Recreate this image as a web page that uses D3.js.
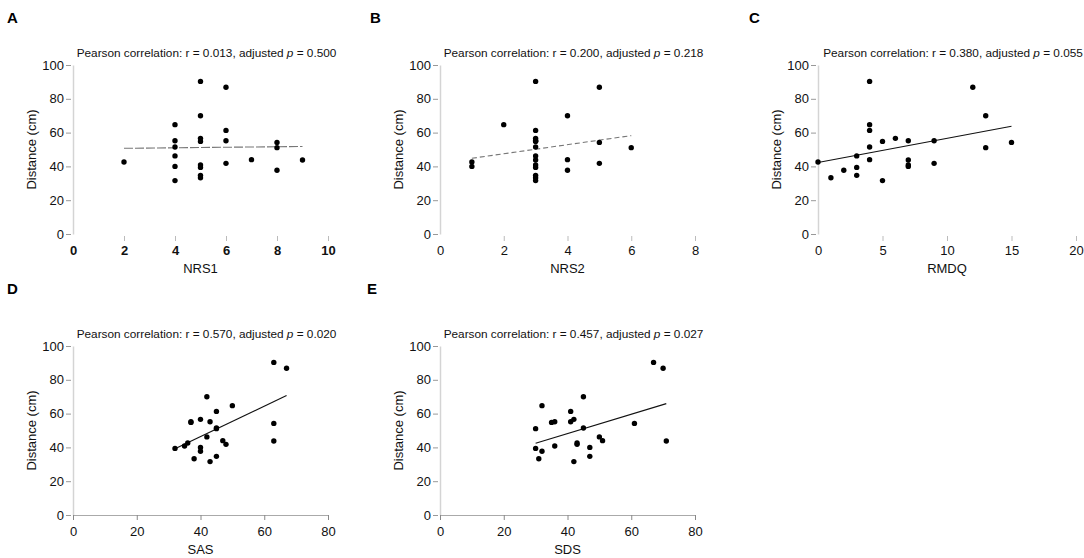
<!DOCTYPE html>
<html>
<head>
<meta charset="utf-8">
<script src="https://cdn.jsdelivr.net/npm/d3@7"></script>
<style>
  body { margin: 0; background: #fff; }
  svg { font-family: "Liberation Sans", Arial, sans-serif; }
</style>
</head>
<body>
<svg id="chart" width="1084" height="558"></svg>
<script>
// values (distance in cm)
const nrs1X = [2, 4, 4, 4, 4, 4, 4, 5, 5, 5, 5, 5, 5, 5, 5, 6, 6, 6, 6, 7, 8, 8, 8, 9];
const nrs1Y = [42.6, 64.7, 55.2, 51.5, 46.2, 40.0, 31.6, 90.3, 70.0, 56.6, 54.8, 40.8, 39.4, 34.7, 33.3, 86.8, 61.3, 55.2, 41.8, 44.0, 54.2, 51.1, 37.7, 43.8];

const nrs2X = [1, 1, 2, 3, 3, 3, 3, 3, 3, 3, 3, 3, 3, 3, 3, 3, 3, 4, 4, 4, 5, 5, 5, 6];
const nrs2Y = [42.6, 40.0, 64.7, 90.3, 61.3, 56.6, 55.2, 55.2, 54.8, 51.5, 46.2, 43.8, 40.8, 39.4, 34.7, 33.3, 31.6, 70.0, 44.0, 37.7, 86.8, 54.2, 41.8, 51.1];

const rmdqX = [0, 1, 2, 3, 3, 3, 4, 4, 4, 4, 4, 5, 5, 6, 7, 7, 7, 7, 9, 9, 12, 13, 13, 15];
const rmdqY = [42.6, 33.3, 37.7, 46.2, 39.4, 34.7, 90.3, 64.7, 61.3, 51.5, 44.0, 54.8, 31.6, 56.6, 55.2, 43.8, 40.8, 40.0, 55.2, 41.8, 86.8, 70.0, 51.1, 54.2];

const sasX = [32, 35, 36, 37, 37, 38, 40, 40, 40, 42, 42, 43, 43, 45, 45, 45, 45, 47, 48, 50, 63, 63, 63, 67];
const sasY = [39.4, 40.8, 42.6, 54.8, 55.2, 33.3, 56.6, 40.0, 37.7, 70.0, 46.2, 55.2, 31.6, 61.3, 51.5, 51.1, 34.7, 44.0, 41.8, 64.7, 90.3, 54.2, 43.8, 86.8];

const sdsX = [30, 30, 31, 32, 32, 35, 36, 36, 41, 41, 42, 42, 43, 43, 45, 45, 47, 47, 50, 51, 61, 67, 70, 71];
const sdsY = [51.1, 39.4, 33.3, 64.7, 37.7, 54.8, 55.2, 40.8, 61.3, 55.2, 56.6, 31.6, 42.6, 41.8, 70.0, 51.5, 40.0, 34.7, 46.2, 44.0, 54.2, 90.3, 86.8, 43.8];

// fitted lines as drawn: [x1, y1, x2, y2]
const fitA = [2, 50.7, 9, 51.8];
const fitB = [1, 44.8, 6, 58.2];
const fitC = [0, 42.3, 15, 63.8];
const fitD = [32, 39.2, 67, 70.7];
const fitE = [30, 42.5, 71, 65.9];

const panelLetters = ["A", "B", "C", "D", "E"];
const xLabels = ["NRS1", "NRS2", "RMDQ", "SAS", "SDS"];
const xMax = [10, 8, 20, 80, 80];
const xTickValues = [[0, 2, 4, 6, 8, 10], [0, 2, 4, 6, 8], [0, 5, 10, 15, 20], [0, 20, 40, 60, 80], [0, 20, 40, 60, 80]];
const yTickValues = [0, 20, 40, 60, 80, 100];
const rValues = ["0.013", "0.200", "0.380", "0.570", "0.457"];
const pValues = ["0.500", "0.218", "0.055", "0.020", "0.027"];

const panels = [
    { x: nrs1X, y: nrs1Y, fit: fitA, left: 73, top: 65, w: 255, letter: [7, 23], boldTicks: true, xDomain: false, dash: "9,2", fitColor: "#777" },
    { x: nrs2X, y: nrs2Y, fit: fitB, left: 440, top: 65, w: 255, letter: [370, 23], boldTicks: false, xDomain: false, dash: "5,3", fitColor: "#777" },
    { x: rmdqX, y: rmdqY, fit: fitC, left: 818, top: 65, w: 258, letter: [749, 23], boldTicks: false, xDomain: false, dash: null, fitColor: "#111" },
    { x: sasX, y: sasY, fit: fitD, left: 73, top: 346, w: 255, letter: [7, 294], boldTicks: false, xDomain: true, dash: null, fitColor: "#111" },
    { x: sdsX, y: sdsY, fit: fitE, left: 440, top: 346, w: 255, letter: [367, 294], boldTicks: false, xDomain: true, dash: null, fitColor: "#111" }
];

const plotHeight = 169;
const svg = d3.select("#chart");

panels.forEach((p, i) => {
    const g = svg.append("g").attr("transform", `translate(${p.left},${p.top})`);

    const x = d3.scaleLinear().domain([0, xMax[i]]).range([0, p.w]);
    const y = d3.scaleLinear().domain([0, 100]).range([plotHeight, 0]);

    // panel letter
    svg.append("text")
        .attr("x", p.letter[0])
        .attr("y", p.letter[1])
        .style("font-size", "15px")
        .style("font-weight", "bold")
        .text(panelLetters[i]);

    // title
    const title = g.append("text")
        .attr("x", p.w / 2 + 6)
        .attr("y", -8)
        .attr("text-anchor", "middle")
        .style("font-size", "11.8px")
        .attr("fill", "#111");
    title.append("tspan").text(`Pearson correlation: r = ${rValues[i]}, adjusted `);
    title.append("tspan").style("font-style", "italic").text("p");
    title.append("tspan").text(` = ${pValues[i]}`);

    // y axis
    const yAxis = g.append("g")
        .call(d3.axisLeft(y).tickValues(yTickValues).tickSize(5).tickPadding(2).tickSizeOuter(0));
    yAxis.select(".domain").attr("stroke", "#d4d4d4").attr("stroke-width", 1.5);
    yAxis.selectAll(".tick line").attr("stroke", "#999").attr("transform", "translate(-2,0)");
    yAxis.selectAll(".tick text").style("font-size", "13px").attr("fill", "#111").attr("x", -9);

    // x axis
    const xAxis = g.append("g")
        .attr("transform", `translate(0,${plotHeight})`)
        .call(d3.axisBottom(x).tickValues(xTickValues[i]).tickSize(5).tickPadding(5).tickSizeOuter(0));
    if (p.xDomain) {
        xAxis.select(".domain").attr("stroke", "#aaa");
        xAxis.selectAll(".tick line").attr("stroke", "#888");
    } else {
        xAxis.select(".domain").remove();
        xAxis.selectAll(".tick line")
            .attr("stroke", "#bbb")
            .attr("y1", 2)
            .attr("y2", 7)
            .filter(d => d === 0).remove();
    }
    xAxis.selectAll(".tick text")
        .style("font-size", "13px")
        .style("font-weight", p.boldTicks ? "bold" : "normal")
        .attr("fill", "#111")
        .attr("y", 12);

    // axis titles
    g.append("text")
        .attr("x", p.w / 2)
        .attr("y", plotHeight + 39)
        .attr("text-anchor", "middle")
        .style("font-size", "13px")
        .attr("fill", "#111")
        .text(xLabels[i]);

    g.append("text")
        .attr("transform", `translate(-37,${plotHeight / 2}) rotate(-90)`)
        .attr("text-anchor", "middle")
        .style("font-size", "13px")
        .attr("fill", "#111")
        .text("Distance (cm)");

    // fitted line
    g.append("line")
        .attr("x1", x(p.fit[0]))
        .attr("y1", y(p.fit[1]))
        .attr("x2", x(p.fit[2]))
        .attr("y2", y(p.fit[3]))
        .attr("stroke", p.fitColor)
        .attr("stroke-width", 1.1)
        .attr("stroke-dasharray", p.dash);

    // points
    g.append("g")
        .selectAll("circle")
        .data(p.x.map((v, k) => [v, p.y[k]]))
        .join("circle")
        .attr("cx", d => x(d[0]))
        .attr("cy", d => y(d[1]))
        .attr("r", 2.7)
        .attr("fill", "#000");
});
</script>
</body>
</html>
